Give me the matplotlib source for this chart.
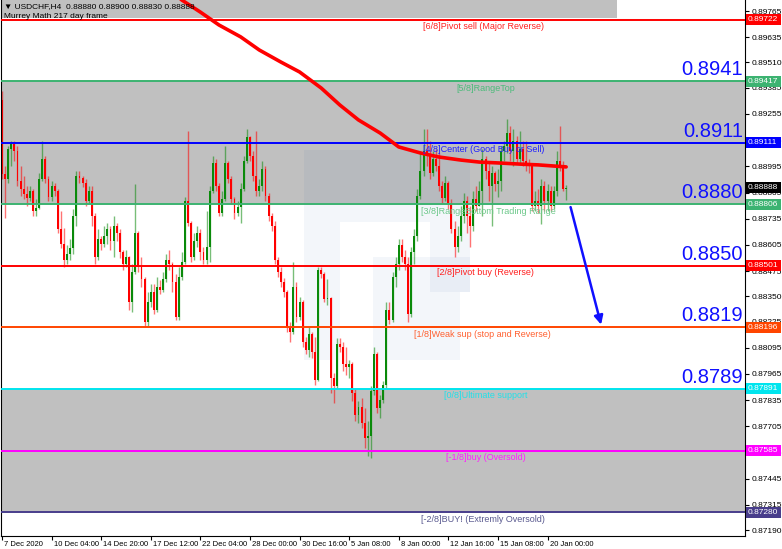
import math
import matplotlib
matplotlib.use("Agg")
import matplotlib.pyplot as plt
from matplotlib.patches import Rectangle
from matplotlib.transforms import blended_transform_factory, offset_copy

plt.rcParams['font.family'] = ['Liberation Sans', 'DejaVu Sans']

# USDCHF H4 candles
first_open = 0.89322
closes = [
    0.88957, 0.88932, 0.89082, 0.89107, 0.89072, 0.88922, 0.88882, 0.88857, 0.88837, 0.88872,
    0.88772, 0.88787, 0.88932, 0.89032, 0.88932, 0.88842, 0.88897, 0.88872, 0.88682, 0.88612,
    0.88532, 0.88562, 0.88592, 0.88747, 0.88947, 0.88937, 0.88912, 0.88822, 0.88872, 0.88747,
    0.88547, 0.88632, 0.88612, 0.88647, 0.88682, 0.88622, 0.88697, 0.88662, 0.88572, 0.88512,
    0.88547, 0.88322, 0.88472, 0.88662, 0.88497, 0.88437, 0.88222, 0.88322, 0.88372, 0.88282,
    0.88397, 0.88382, 0.88437, 0.88532, 0.88512, 0.88422, 0.88247, 0.88447, 0.88522, 0.88822,
    0.88712, 0.88547, 0.88622, 0.88662, 0.88572, 0.88532, 0.88597, 0.88872, 0.89012, 0.88897,
    0.88762, 0.88832, 0.89012, 0.88932, 0.88832, 0.88762, 0.88792, 0.88882, 0.89022, 0.89142,
    0.89047, 0.88947, 0.88872, 0.88897, 0.88982, 0.88847, 0.88747, 0.88697, 0.88532, 0.88472,
    0.88422, 0.88372, 0.88197, 0.88172, 0.88397, 0.88247, 0.88322, 0.88122, 0.88082, 0.88162,
    0.88072, 0.87937, 0.88482, 0.88462, 0.88337, 0.88342, 0.87947, 0.87907, 0.88112, 0.88097,
    0.88012, 0.87997, 0.88012, 0.87872, 0.87762, 0.87802, 0.87722, 0.87647, 0.87657, 0.87882,
    0.88062, 0.87797, 0.87837, 0.87912, 0.88282, 0.88232, 0.88447, 0.88512, 0.88607, 0.88547,
    0.88512, 0.88262, 0.88572, 0.88647, 0.88847, 0.88972, 0.89072, 0.89047, 0.88962, 0.89032,
    0.88997, 0.88897, 0.88837, 0.88912, 0.88812, 0.88682, 0.88597, 0.88647, 0.88747, 0.88822,
    0.88747, 0.88697, 0.88832, 0.88797, 0.88872, 0.89032, 0.88972, 0.88897, 0.88962, 0.88907,
    0.88922, 0.89072, 0.89097, 0.89162, 0.89072, 0.89122, 0.89032, 0.89082, 0.89022, 0.89007,
    0.88997, 0.88797, 0.88822, 0.88797, 0.88897, 0.88822, 0.88872, 0.88797, 0.88872, 0.89022,
    0.88997, 0.88880, 0.88888,
]
highs = [
    0.89367, 0.88997, 0.89097, 0.89122, 0.89122, 0.89097, 0.88997, 0.88947, 0.88897, 0.88897,
    0.88882, 0.88832, 0.88962, 0.89122, 0.89047, 0.88947, 0.88922, 0.88912, 0.88882, 0.88772,
    0.88687, 0.88607, 0.88632, 0.88782, 0.88972, 0.88972, 0.88947, 0.88932, 0.88897, 0.88897,
    0.88762, 0.88682, 0.88647, 0.88697, 0.88712, 0.88697, 0.88747, 0.88712, 0.88682, 0.88582,
    0.88582, 0.88552, 0.88512, 0.88907, 0.88672, 0.88547, 0.88447, 0.88372, 0.88412, 0.88412,
    0.88447, 0.88432, 0.88472, 0.88562, 0.88582, 0.88522, 0.88462, 0.88497, 0.88572, 0.88842,
    0.89172, 0.88722, 0.88662, 0.88697, 0.88682, 0.88597, 0.88772, 0.88897, 0.89047, 0.89032,
    0.88912, 0.88872, 0.89097, 0.89022, 0.88947, 0.88842, 0.88822, 0.88912, 0.89047, 0.89182,
    0.89147, 0.89072, 0.89172, 0.88932, 0.89022, 0.88997, 0.88862, 0.88762, 0.88722, 0.88547,
    0.88497, 0.88442, 0.88382, 0.88222, 0.88522, 0.88422, 0.88347, 0.88332, 0.88147, 0.88197,
    0.88172, 0.88147, 0.88497, 0.88497, 0.88472, 0.88437, 0.88347, 0.87972, 0.88142, 0.88142,
    0.88122, 0.88097, 0.88032, 0.88022, 0.87897, 0.87832, 0.87847, 0.87797, 0.87732, 0.87907,
    0.88097, 0.88072, 0.87862, 0.87932, 0.88322, 0.88322, 0.88472, 0.88547, 0.88632, 0.88632,
    0.88582, 0.88547, 0.88597, 0.88682, 0.88882, 0.89072, 0.89182, 0.89182, 0.89122, 0.89072,
    0.89082, 0.89062, 0.88922, 0.88947, 0.88922, 0.88832, 0.88722, 0.88697, 0.88797, 0.88862,
    0.88847, 0.88797, 0.88872, 0.88897, 0.88922, 0.89082, 0.89047, 0.89022, 0.88997, 0.88972,
    0.88982, 0.89097, 0.89122, 0.89232, 0.89197, 0.89182, 0.89147, 0.89172, 0.89122, 0.89122,
    0.89032, 0.89012, 0.88872, 0.88882, 0.88932, 0.88922, 0.88907, 0.88897, 0.88897, 0.89072,
    0.89197, 0.89022, 0.88900,
]
lows = [
    0.88932, 0.88737, 0.88912, 0.88997, 0.89022, 0.88897, 0.88847, 0.88832, 0.88797, 0.88822,
    0.88747, 0.88747, 0.88782, 0.88922, 0.88912, 0.88822, 0.88822, 0.88847, 0.88662, 0.88592,
    0.88497, 0.88512, 0.88532, 0.88562, 0.88697, 0.88912, 0.88892, 0.88797, 0.88807, 0.88697,
    0.88512, 0.88532, 0.88582, 0.88597, 0.88612, 0.88582, 0.88547, 0.88622, 0.88542, 0.88482,
    0.88497, 0.88282, 0.88272, 0.88462, 0.88472, 0.88397, 0.88197, 0.88202, 0.88297, 0.88262,
    0.88272, 0.88362, 0.88372, 0.88422, 0.88482, 0.88372, 0.88232, 0.88232, 0.88432, 0.88512,
    0.88697, 0.88522, 0.88532, 0.88597, 0.88532, 0.88512, 0.88512, 0.88522, 0.88862, 0.88872,
    0.88747, 0.88747, 0.88822, 0.88912, 0.88807, 0.88732, 0.88747, 0.88712, 0.88872, 0.89012,
    0.89022, 0.88922, 0.88847, 0.88847, 0.88872, 0.88822, 0.88722, 0.88672, 0.88512, 0.88447,
    0.88397, 0.88347, 0.88172, 0.88122, 0.88162, 0.88222, 0.88232, 0.88097, 0.88062, 0.88047,
    0.88042, 0.87912, 0.87932, 0.88442, 0.88322, 0.88307, 0.87872, 0.87822, 0.87897, 0.88072,
    0.87982, 0.87962, 0.87947, 0.87832, 0.87732, 0.87722, 0.87697, 0.87597, 0.87557, 0.87547,
    0.87862, 0.87772, 0.87747, 0.87822, 0.87892, 0.88212, 0.88222, 0.88397, 0.88482, 0.88522,
    0.88482, 0.88222, 0.88247, 0.88512, 0.88622, 0.88832, 0.88947, 0.88997, 0.88932, 0.88947,
    0.88972, 0.88872, 0.88812, 0.88822, 0.88782, 0.88662, 0.88547, 0.88572, 0.88622, 0.88712,
    0.88662, 0.88597, 0.88672, 0.88772, 0.88797, 0.88747, 0.88932, 0.88822, 0.88697, 0.88872,
    0.88842, 0.88872, 0.89022, 0.89062, 0.89022, 0.88997, 0.89012, 0.89012, 0.88997, 0.88972,
    0.88962, 0.88772, 0.88772, 0.88762, 0.88707, 0.88772, 0.88772, 0.88772, 0.88782, 0.88847,
    0.88972, 0.88872, 0.88830,
]
opens = [first_open] + closes[:-1]

# moving average (red thick line)
ma_bars = [55, 58, 64, 70, 77, 83, 90, 96, 103, 109, 115, 122, 128, 135, 141, 148, 154, 161, 167, 173, 182]
ma_values = [0.89860, 0.89820, 0.89760, 0.89696, 0.89637, 0.89572, 0.89512, 0.89463, 0.89383, 0.89299,
             0.89225, 0.89160, 0.89091, 0.89061, 0.89041, 0.89026, 0.89016, 0.89011, 0.89006, 0.89002, 0.88992]

# Murrey Math levels
level_values = [0.89722, 0.89417, 0.89111, 0.88806, 0.88501, 0.88196, 0.87891, 0.87585, 0.87280]
level_names = ["[6/8]Pivot sell (Major Reverse)", "[5/8]RangeTop", "[4/8]Center (Good Buy or Sell)",
               "[3/8]RangeBottom Trading Range", "[2/8]Pivot buy (Reverse)",
               "[1/8]Weak sup (stop and Reverse)", "[0/8]Ultimate support",
               "[-1/8]buy (Oversold)", "[-2/8]BUY! (Extremly Oversold)"]
level_colors = ['#ff0000', '#3cb371', '#0000ff', '#3cb371', '#ff0000', '#ff4500', '#00e5ee', '#ff00ff', '#483d8b']
level_text_colors = ['#ff2020', '#4cbb7a', '#2020ff', '#6cc88a', '#ff2020', '#ff6030', '#22e0e8', '#ff20ff', '#5a5a90']
label_px = [423, 456, 423, 421, 437, 414, 444, 446, 421]
big_labels = ["0.8941", "0.8911", "0.8880", "0.8850", "0.8819", "0.8789"]

current_price = 0.88888
price_ticks = [0.89765, 0.89635, 0.89510, 0.89385, 0.89255, 0.89125, 0.88995, 0.88865, 0.88735, 0.88605,
               0.88475, 0.88350, 0.88225, 0.88095, 0.87965, 0.87835, 0.87705, 0.87575, 0.87445, 0.87315, 0.87190]
time_labels = ["7 Dec 2020", "10 Dec 04:00", "14 Dec 20:00", "17 Dec 12:00", "22 Dec 04:00", "28 Dec 00:00",
               "30 Dec 16:00", "5 Jan 08:00", "8 Jan 00:00", "12 Jan 16:00", "15 Jan 08:00", "20 Jan 00:00"]
bars_per_label = 16

W, H = 782, 549
fig = plt.figure(figsize=(W / 100, H / 100), dpi=100)
AX_W, AX_H = 744, 536
ax = fig.add_axes([1 / W, (H - AX_H) / H, AX_W / W, AX_H / H])
ax.set_xlim(-0.32, 239.7)
ax.set_ylim(0.87161, 0.89820)


def fx(px):
    return (px - 1) / AX_W


def fy(py):
    return 1 - py / AX_H


# gray zones
ax.axhspan(level_values[3], level_values[1], color='#c0c0c0', zorder=0.5, lw=0)
ax.axhspan(level_values[8], level_values[6], color='#c0c0c0', zorder=0.5, lw=0)
# header box
ax.add_patch(Rectangle((0, fy(18)), fx(617), 18 / AX_H, transform=ax.transAxes,
                       color='#c0c0c0', zorder=0.6, lw=0))

# faint watermark logo
for x0, y0, x1, y1 in [(304, 150, 340, 360), (340, 150, 470, 222), (430, 222, 470, 292),
                       (373, 257, 470, 292), (373, 292, 460, 360)]:
    ax.add_patch(Rectangle((fx(x0), fy(y1)), fx(x1) - fx(x0), (y1 - y0) / AX_H,
                           transform=ax.transAxes, color='#1f4f9f', alpha=0.05, lw=0, zorder=1))

# candles
idx = list(range(len(closes)))
for i in idx:
    o, c = opens[i], closes[i]
    h = max(highs[i], o, c)
    l = min(lows[i], o, c)
    col = '#0a8a0a' if c >= o else '#ff0000'
    ax.vlines(i, l, h, color=col, lw=1.0, alpha=0.55, zorder=2)
    ax.bar(i, max(abs(c - o), 0.00003), bottom=min(o, c), width=0.62, color=col, lw=0, zorder=2.5)

# level lines and labels
blend = blended_transform_factory(ax.transAxes, ax.transData)
for val, name, col, tcol, px in zip(level_values, level_names, level_colors, level_text_colors, label_px):
    ax.axhline(val, color=col, lw=1.4, zorder=3)
    ax.text(fx(px), val, name, transform=offset_copy(blend, fig=fig, y=-2.5, units='dots'),
            ha='left', va='top', fontsize=6.5, color=tcol, zorder=5)

for val, txt in zip(level_values[1:7], big_labels):
    ax.text(fx(743), val, txt, transform=offset_copy(blend, fig=fig, y=2, units='dots'),
            ha='right', va='bottom', fontsize=14.5, color='#1010ff', zorder=5)

# moving average
ax.plot(ma_bars, ma_values, color='#ff0000', lw=2.6, zorder=4, solid_capstyle='round')

# forecast arrow
ax.annotate('', xy=(193.5, level_values[5]), xytext=(183.2, level_values[3]),
            arrowprops=dict(arrowstyle='-|>', color='#1010ff', lw=1.8, mutation_scale=13), zorder=6)

# axes styling
ax.spines['top'].set_visible(False)
for s in ['left', 'bottom', 'right']:
    ax.spines[s].set_color('#000000')
    ax.spines[s].set_linewidth(0.8)
ax.yaxis.tick_right()
ax.set_yticks(price_ticks)
ax.set_yticklabels([f"{v:.5f}" for v in price_ticks])
ax.tick_params(axis='y', length=3, width=0.8, pad=2, labelsize=6, colors='#000000')
ax.set_xticks([k * bars_per_label for k in range(len(time_labels))])
ax.set_xticklabels(time_labels, ha='left')
ax.tick_params(axis='x', length=3, width=0.8, pad=0.5, labelsize=5.5)
for lab in ax.get_xticklabels():
    lab.set_transform(offset_copy(lab.get_transform(), fig=fig, x=2, units='dots'))

# price tags on the right scale
tag_h = 5.5 / 20160
for val, col in list(zip(level_values, level_colors)) + [(current_price, '#000000')]:
    ax.add_patch(Rectangle((fx(746), val - tag_h), fx(781) - fx(746), 2 * tag_h, transform=blend,
                           color=col, lw=0, clip_on=False, zorder=7))
    ax.text(fx(748), val, f"{val:.5f}", transform=blend, ha='left', va='center',
            fontsize=6, color='white', clip_on=False, zorder=8)

# header text
fig.text(4 / W, 1 - 7 / H, "\u25bc USDCHF,H4  0.88880 0.88900 0.88830 0.88888",
         fontsize=6, va='center', ha='left', family=['Liberation Sans', 'DejaVu Sans'])
fig.text(4 / W, 1 - 17 / H, "Murrey Math 217 day frame", fontsize=6, va='center', ha='left')

fig.savefig("out.png", dpi=100)
